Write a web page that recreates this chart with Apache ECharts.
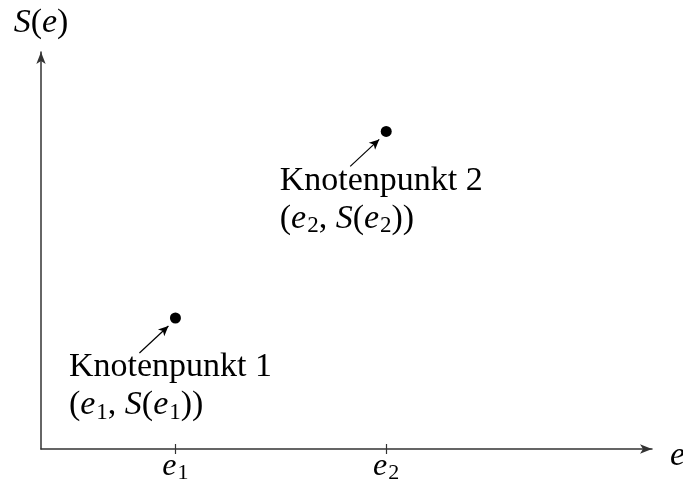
<!DOCTYPE html>
<html>
<head>
<meta charset="utf-8">
<script src="https://cdn.jsdelivr.net/npm/echarts@6/dist/echarts.min.js"></script>
<style>html,body{margin:0;padding:0;background:#fff}#c{width:683px;height:482px}</style>
</head>
<body>
<div id="c"></div>
<script>
// ---- data ----
const nodeNames = ['Knotenpunkt 1', 'Knotenpunkt 2'];
const nodeSubs = ['1', '2'];
const nodeX = [2.2, 5.65];
const nodeY = [3.3, 8.0];
const tickValues = [2.2, 5.65];
const tickSubs = ['1', '2'];
const xMax = 10, yMax = 10;

const FONT = 'Liberation Serif';
const chart = echarts.init(document.getElementById('c'), null, {renderer: 'canvas'});

const mathRich = {
  t: {fontFamily: FONT, fontSize: 34, color: '#000', lineHeight: 38},
  p: {fontFamily: FONT, fontSize: 34, color: '#000', lineHeight: 38},
  i: {fontFamily: FONT, fontSize: 34, fontStyle: 'italic', color: '#000', lineHeight: 38},
  s: {fontFamily: FONT, fontSize: 23, color: '#000', lineHeight: 38, padding: [15, 0, 0, 1]}
};
const tickRich = {
  i: {fontFamily: FONT, fontSize: 32, fontStyle: 'italic', color: '#000', lineHeight: 30},
  s: {fontFamily: FONT, fontSize: 22, color: '#000', lineHeight: 30, padding: [13, 0, 0, 1]}
};

const points = nodeX.map((x, k) => ({value: [x, nodeY[k]], name: nodeNames[k], sub: nodeSubs[k]}));

// arrow offsets (in data units) from label toward the point
const pxX = 611 / xMax, pxY = 397 / yMax;
const arrows = nodeX.map((x, k) => [
  {coord: [x - 36 / pxX, nodeY[k] - 35 / pxY]},
  {coord: [x - 7 / pxX, nodeY[k] - 8 / pxY]}
]);

const subIdx = v => tickSubs[tickValues.indexOf(v)];

chart.setOption({
  animation: false,
  backgroundColor: '#fff',
  grid: {left: 41, right: 31, top: 52, bottom: 33, containLabel: false, outerBoundsMode: 'none'},
  xAxis: [{
    type: 'value', min: 0, max: xMax,
    name: '{i|e}', nameLocation: 'end', nameGap: 18,
    nameTextStyle: {rich: mathRich, padding: [14, 0, 0, 0]},
    axisLine: {show: true, symbol: ['none', 'arrow'], symbolSize: [7, 12], symbolOffset: [0, 0],
      lineStyle: {color: '#333', width: 1.5}},
    axisTick: {show: true, length: 5, customValues: tickValues, lineStyle: {color: '#333', width: 1.2}},
    axisLabel: {show: true, customValues: tickValues, margin: 3,
      formatter: v => '{i|e}{s|' + subIdx(v) + '}', rich: tickRich},
    splitLine: {show: false}
  }, {
    type: 'value', min: 0, max: xMax, position: 'bottom', gridIndex: 0,
    axisLine: {show: false},
    axisTick: {show: true, inside: true, length: 5, customValues: tickValues, lineStyle: {color: '#333', width: 1.2}},
    axisLabel: {show: false},
    splitLine: {show: false}
  }],
  yAxis: {
    type: 'value', min: 0, max: yMax,
    name: '{i|S}{p|(}{i|e}{p|)}', nameLocation: 'end', nameGap: 10,
    nameTextStyle: {rich: mathRich, align: 'center'},
    axisLine: {show: true, symbol: ['none', 'arrow'], symbolSize: [7, 12],
      lineStyle: {color: '#333', width: 1.5}},
    axisTick: {show: false},
    axisLabel: {show: false},
    splitLine: {show: false}
  },
  series: [{
    type: 'scatter',
    symbol: 'circle',
    symbolSize: 11,
    itemStyle: {color: '#000', opacity: 1},
    data: points,
    label: {
      show: true,
      position: [-101, 36],
      align: 'left',
      verticalAlign: 'top',
      formatter: p => '{t|' + p.data.name + '}\n{p|(}{i|e}{s|' + p.data.sub + '}{p|, }{i|S}{p|(}{i|e}{s|' + p.data.sub + '}{p|))}',
      rich: mathRich
    },
    markLine: {
      silent: true,
      symbol: ['none', 'arrow'],
      symbolSize: [7, 10],
      label: {show: false},
      lineStyle: {color: '#000', width: 1.2, type: 'solid'},
      data: arrows
    }
  }]
});
</script>
</body>
</html>
